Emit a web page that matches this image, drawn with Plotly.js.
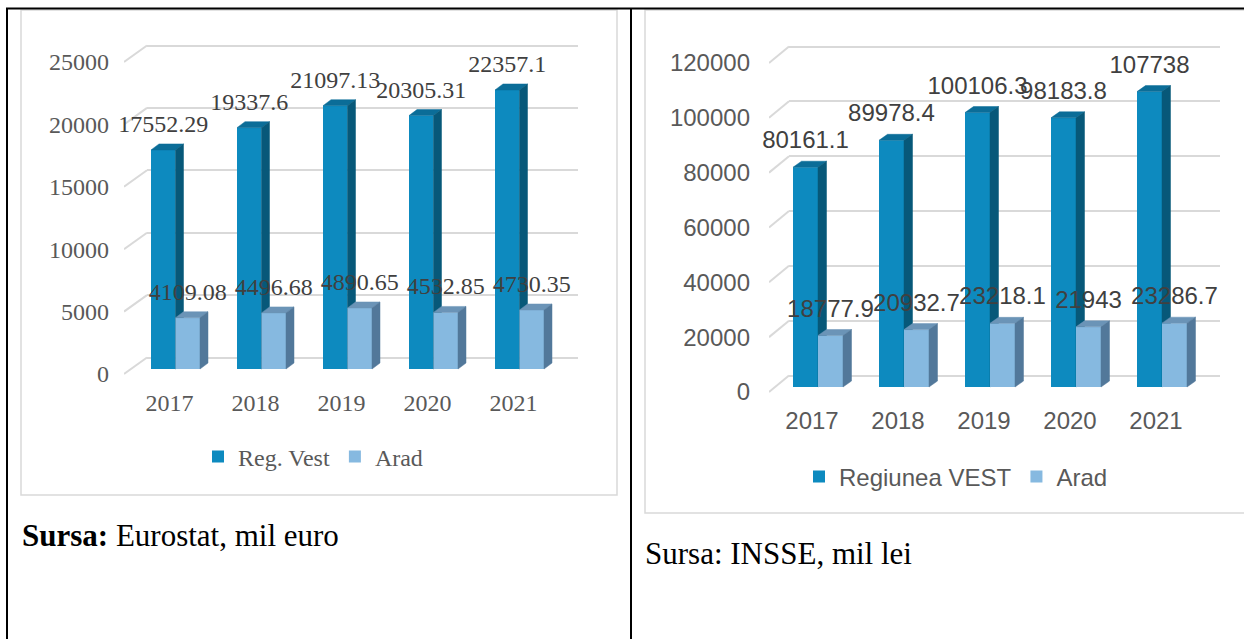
<!DOCTYPE html>
<html><head><meta charset="utf-8">
<script src="https://cdn.plot.ly/plotly-3.0.1.min.js"></script>
<style>html,body{margin:0;padding:0;background:#fff;}#chart{width:1244px;height:639px;}</style>
</head><body><div id="chart"></div>
<script>
// ---------------- data ----------------
const years = ['2017', '2018', '2019', '2020', '2021'];
const regVestEuro = [17552.29, 19337.6, 21097.13, 20305.31, 22357.1];
const aradEuro = [4109.08, 4496.68, 4890.65, 4532.85, 4730.35];
const regVestLei = [80161.1, 89978.4, 100106.3, 98183.8, 107738];
const aradLei = [18777.9, 20932.7, 23218.1, 21943, 23286.7];
const ticksEuro = [0, 5000, 10000, 15000, 20000, 25000];
const ticksLei = [0, 20000, 40000, 60000, 80000, 100000, 120000];
const namesEuro = ['Reg. Vest', 'Arad'];
const namesLei = ['Regiunea VEST', 'Arad'];
const sourceEuro = '<b>Sursa:</b> Eurostat, mil euro';
const sourceLei = 'Sursa: INSSE, mil lei';

// ---------------- styles / geometry ----------------
const W = 1244, H = 639;
const px2x = p => p / W;
const px2y = p => 1 - p / H;
const COLORS = {
  regFront: '#0D8ABF', regTop: '#0B6D98', regSide: '#075879',
  aradFront: '#86B9E0', aradTop: '#6B94B7', aradSide: '#52789A',
  grid: '#D9D9D9', axisText: '#595959', labelText: '#404040'
};

const cfgA = {
  font: 'Liberation Serif, Times New Roman, serif', size: 24,
  zeroPx: 374, pxPerUnit: 62.4 / 5000,
  catPx0: 175.5, catStep: 86, barW: 24.5,
  baseLift: 5, depthX: 8, depthY: 6, wallX: 23, wallY: 16.5,
  frontLeft: 124, gridRight: 578, plotRight: 600, plotTop: 20, plotBottom: 385,
  labelGap: 24, xTickShift: -6, yStandoff: 14, xStandoff: 1,
  legendX: 198, legendY: 457,
  cats: years, ticks: ticksEuro, reg: regVestEuro, arad: aradEuro, names: namesEuro,
  nb: 1, nf: 2, no: 3, legend: 'legend'
};
const cfgB = {
  font: 'Liberation Sans, Arial, sans-serif', size: 24,
  zeroPx: 392, pxPerUnit: 329 / 120000,
  catPx0: 818, catStep: 86, barW: 25,
  baseLift: 5, depthX: 8.5, depthY: 6, wallX: 20, wallY: 16.5,
  frontLeft: 769, gridRight: 1220, plotRight: 1240, plotTop: 20, plotBottom: 400,
  labelGap: 25, xTickShift: -6, yStandoff: 18, xStandoff: 4,
  legendX: 799, legendY: 477,
  cats: years, ticks: ticksLei, reg: regVestLei, arad: aradLei, names: namesLei,
  nb: 4, nf: 5, no: 6, legend: 'legend2'
};

const axKey = (l, n) => l + 'axis' + (n === 1 ? '' : n);
const axRef = (l, n) => l + (n === 1 ? '' : n);

const traces = [];
const layout = {
  width: W, height: H, margin: {l: 0, r: 0, t: 0, b: 0},
  paper_bgcolor: '#ffffff', plot_bgcolor: 'rgba(0,0,0,0)',
  barmode: 'overlay', showlegend: true, shapes: [], annotations: []
};

function buildChart(c) {
  const s = c.pxPerUnit;
  const xu = p => (p - c.catPx0) / c.catStep;
  const yu = p => (c.zeroPx - p) / s;
  const w = c.barW / c.catStep;
  const base = c.baseLift / s;
  const dxu = c.depthX / c.catStep, dyu = c.depthY / s;
  const wallDx = c.wallX / c.catStep, wallDy = c.wallY / s;
  const idx = c.cats.map((_, i) => i);
  const bx = axRef('x', c.nb), by = axRef('y', c.nb);
  const fx = axRef('x', c.nf), fy = axRef('y', c.nf);
  const ox = axRef('x', c.no), oy = axRef('y', c.no);
  const xRange = [xu(c.frontLeft), xu(c.plotRight)];
  const yRange = [yu(c.plotBottom), yu(c.plotTop)];
  const yDom = [px2y(c.plotBottom), px2y(c.plotTop)];
  const tickFont = {family: c.font, size: c.size, color: COLORS.axisText};

  // back wall (gridlines from the axis itself)
  layout[axKey('x', c.nb)] = {domain: [px2x(c.frontLeft + c.wallX), px2x(c.gridRight)], range: [0, 1],
    showgrid: false, zeroline: false, showticklabels: false, ticks: '', showline: false, anchor: by};
  layout[axKey('y', c.nb)] = {domain: yDom,
    range: [(c.zeroPx - c.wallY - c.plotBottom) / s, (c.zeroPx - c.wallY - c.plotTop) / s],
    tickvals: c.ticks, showgrid: true, gridcolor: COLORS.grid, gridwidth: 2, zeroline: false,
    showticklabels: false, ticks: '', showline: false, anchor: bx};
  traces.push({type: 'scatter', x: [], y: [], xaxis: bx, yaxis: by, showlegend: false, hoverinfo: 'skip'});

  // front axes
  layout[axKey('x', c.nf)] = {domain: [px2x(c.frontLeft), px2x(c.plotRight)], range: xRange,
    tickvals: idx.map(i => i + c.xTickShift / c.catStep), ticktext: c.cats,
    showgrid: false, zeroline: false, showline: false, ticks: '', tickfont: tickFont,
    ticklabelstandoff: c.xStandoff, anchor: fy};
  layout[axKey('y', c.nf)] = {domain: yDom, range: yRange, tickvals: c.ticks, tickformat: 'd',
    showgrid: false, zeroline: false, showline: false, ticks: '', tickfont: tickFont,
    ticklabelstandoff: c.yStandoff, anchor: fx};
  layout[axKey('x', c.no)] = {overlaying: fx, range: xRange, visible: false, anchor: oy};
  layout[axKey('y', c.no)] = {overlaying: fy, range: yRange, visible: false, anchor: ox};

  // diagonal wall edges
  const dX = [], dY = [];
  c.ticks.forEach(t => { dX.push(xRange[0], xRange[0] + wallDx, null); dY.push(t, t + wallDy, null); });
  traces.push({type: 'scatter', mode: 'lines', x: dX, y: dY, xaxis: fx, yaxis: fy,
    line: {color: COLORS.grid, width: 2}, cliponaxis: false, showlegend: false, hoverinfo: 'skip'});

  function faces(vals, off) {
    const tX = [], tY = [], sX = [], sY = [];
    vals.forEach((v, i) => {
      const xl = i + off, xr = xl + w, yt = base + v;
      tX.push(xl, xr, xr + dxu, xl + dxu, xl, null);
      tY.push(yt, yt, yt + dyu, yt + dyu, yt, null);
      sX.push(xr, xr, xr + dxu, xr + dxu, xr, null);
      sY.push(base, yt, yt + dyu, base + dyu, base, null);
    });
    return {tX, tY, sX, sY};
  }
  function series(vals, off, name, cf, ct, cs, xa, ya) {
    traces.push({type: 'bar', x: idx.map(i => i + off + w / 2), y: vals, base: base, width: w,
      name: name, legend: c.legend, marker: {color: cf, line: {width: 0}},
      xaxis: xa, yaxis: ya, hoverinfo: 'skip', textposition: 'none'});
    const f = faces(vals, off);
    traces.push({type: 'scatter', mode: 'lines', x: f.tX, y: f.tY, fill: 'toself', fillcolor: ct,
      line: {color: ct, width: 0.5}, xaxis: xa, yaxis: ya, showlegend: false, hoverinfo: 'skip', cliponaxis: false});
    traces.push({type: 'scatter', mode: 'lines', x: f.sX, y: f.sY, fill: 'toself', fillcolor: cs,
      line: {color: cs, width: 0.5}, xaxis: xa, yaxis: ya, showlegend: false, hoverinfo: 'skip', cliponaxis: false});
  }
  series(c.reg, -w, c.names[0], COLORS.regFront, COLORS.regTop, COLORS.regSide, fx, fy);
  series(c.arad, 0, c.names[1], COLORS.aradFront, COLORS.aradTop, COLORS.aradSide, ox, oy);

  // data labels (on top of everything)
  const lg = c.labelGap / s;
  traces.push({type: 'scatter', mode: 'text',
    x: idx.map(i => i - w / 2).concat(idx.map(i => i + w / 2)),
    y: c.reg.map(v => base + v + lg).concat(c.arad.map(v => base + v + lg)),
    text: c.reg.map(v => String(v)).concat(c.arad.map(v => String(v))),
    textposition: 'middle center', textfont: {family: c.font, size: c.size, color: COLORS.labelText},
    xaxis: ox, yaxis: oy, showlegend: false, hoverinfo: 'skip', cliponaxis: false});

  layout[c.legend] = {orientation: 'h', x: px2x(c.legendX), xanchor: 'left', y: px2y(c.legendY), yanchor: 'middle',
    font: {family: c.font, size: c.size, color: COLORS.axisText}, bgcolor: 'rgba(0,0,0,0)', traceorder: 'normal'};
}
buildChart(cfgA);
buildChart(cfgB);

// chart frames and table borders
layout.shapes.push(
  {type: 'rect', xref: 'paper', yref: 'paper', x0: px2x(21), x1: px2x(617), y0: px2y(495), y1: px2y(10),
   line: {color: '#D9D9D9', width: 1.5}, layer: 'below'},
  {type: 'rect', xref: 'paper', yref: 'paper', x0: px2x(645), x1: px2x(1262), y0: px2y(513), y1: px2y(10),
   line: {color: '#D9D9D9', width: 1.5}, layer: 'below'},
  {type: 'line', xref: 'paper', yref: 'paper', x0: px2x(6), x1: 1, y0: px2y(8.5), y1: px2y(8.5), line: {color: '#000', width: 2}},
  {type: 'line', xref: 'paper', yref: 'paper', x0: px2x(7), x1: px2x(7), y0: px2y(8), y1: 0, line: {color: '#000', width: 2}},
  {type: 'line', xref: 'paper', yref: 'paper', x0: px2x(631), x1: px2x(631), y0: px2y(8), y1: 0, line: {color: '#000', width: 2}}
);
layout.annotations.push(
  {xref: 'paper', yref: 'paper', x: px2x(20), y: px2y(535), xanchor: 'left', yanchor: 'middle', showarrow: false,
   text: sourceEuro, font: {family: 'Liberation Serif, Times New Roman, serif', size: 31, color: '#000'}},
  {xref: 'paper', yref: 'paper', x: px2x(643), y: px2y(553), xanchor: 'left', yanchor: 'middle', showarrow: false,
   text: sourceLei, font: {family: 'Liberation Serif, Times New Roman, serif', size: 31, color: '#000'}}
);

Plotly.newPlot('chart', traces, layout, {displayModeBar: false, staticPlot: true});
</script>
</body></html>
